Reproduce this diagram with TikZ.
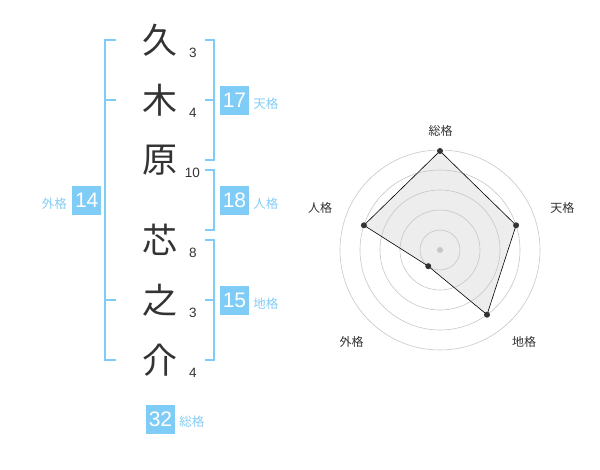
\documentclass[tikz,border=0pt]{standalone}
\usepackage{fontspec}
\setmainfont{Liberation Sans}
\newfontfamily\jpfont{Noto Sans CJK JP}
\definecolor{kakublue}{HTML}{7FCCF7}
\definecolor{kakutext}{HTML}{85CDF5}
\definecolor{inkgray}{HTML}{333333}
\usetikzlibrary{positioning}

\begin{document}
\begin{tikzpicture}[x=1pt,y=-1pt,
	kanji/.style={text=inkgray,font=\jpfont\fontsize{35}{35}\selectfont,inner sep=0pt},
	stroke/.style={text=inkgray,font=\fontsize{13.5}{14}\selectfont,inner sep=0pt},
	numbox/.style={fill=kakublue,text=white,minimum size=29pt,inner sep=0pt,font=\fontsize{21}{21}\selectfont},
	kakulabel/.style={text=kakutext,font=\jpfont\fontsize{12.5}{13}\selectfont,inner sep=0pt,yshift=-3pt},
	bracket/.style={draw=kakublue,line width=2pt},
	radarlabel/.style={text=inkgray,font=\jpfont\fontsize{12}{12}\selectfont,inner sep=0pt}]
	\useasboundingbox (0,0) rectangle (600,470);

	% name, one character per line
	\node[kanji] (c1) at (160,40) {久};
	\node[kanji] (c2) at (160,100) {木};
	\node[kanji] (c3) at (160,160) {原};
	\node[kanji] (c4) at (160,240) {芯};
	\node[kanji] (c5) at (160,300) {之};
	\node[kanji] (c6) at (160,360) {介};
	\node[stroke] (s1) at (193,52.5) {3};
	\node[stroke] (s2) at (193,113) {4};
	\node[stroke] (s3) at (192.5,172.5) {10};
	\node[stroke] (s4) at (193,252.5) {8};
	\node[stroke] (s5) at (193,313) {3};
	\node[stroke] (s6) at (193,372.5) {4};

	% brackets
	\draw[bracket] (116,40) -- (105,40) -- (105,360) -- (116,360);
	\draw[bracket] (105,100) -- (116,100) (105,300) -- (116,300);
	\draw[bracket] (205,40) -- (214,40) -- (214,160) -- (205,160) (214,100) -- (205,100);
	\draw[bracket] (205,170) -- (214,170) -- (214,230) -- (205,230);
	\draw[bracket] (205,240) -- (214,240) -- (214,360) -- (205,360) (214,300) -- (205,300);

	% totals
	\node[numbox] (ten) at (234.5,100.3) {17};
	\node[kakulabel,right=4pt of ten] {天格};
	\node[numbox] (jin) at (234.5,200.3) {18};
	\node[kakulabel,right=4pt of jin] {人格};
	\node[numbox] (chi) at (234.5,300.3) {15};
	\node[kakulabel,right=4pt of chi] {地格};
	\node[numbox] (gai) at (86.7,200.3) {14};
	\node[kakulabel,left=5pt of gai] {外格};
	\node[numbox] (sou) at (160.5,419) {32};
	\node[kakulabel,right=4pt of sou] {総格};

	% radar
	\begin{scope}[shift={(440,250)},yscale=-1]
		\coordinate (r-sou) at (90:99);
		\coordinate (r-ten) at (18:80);
		\coordinate (r-chi) at (-54:80);
		\coordinate (r-gai) at (-126:20);
		\coordinate (r-jin) at (162:80);
		\fill[black!7] (r-sou) -- (r-ten) -- (r-chi) -- (r-gai) -- (r-jin) -- cycle;
		\foreach \r in {20,40,60,80,100}
			\draw[black!22,line width=0.6pt] (0,0) circle (\r);
		\fill[black!22] (0,0) circle (3);
		\draw[black,line width=0.6pt] (r-sou) -- (r-ten) -- (r-chi) -- (r-gai) -- (r-jin) -- cycle;
		\foreach \p in {sou,ten,chi,gai,jin}
			\fill[inkgray] (r-\p) circle (3);
		\node[radarlabel] (l-sou) at (0.7,119.3) {総格};
		\node[radarlabel] (l-ten) at (122.3,41.7) {天格};
		\node[radarlabel] (l-chi) at (84,-92) {地格};
		\node[radarlabel] (l-gai) at (-88.3,-92) {外格};
		\node[radarlabel] (l-jin) at (-120,41.7) {人格};
	\end{scope}
\end{tikzpicture}
\end{document}
